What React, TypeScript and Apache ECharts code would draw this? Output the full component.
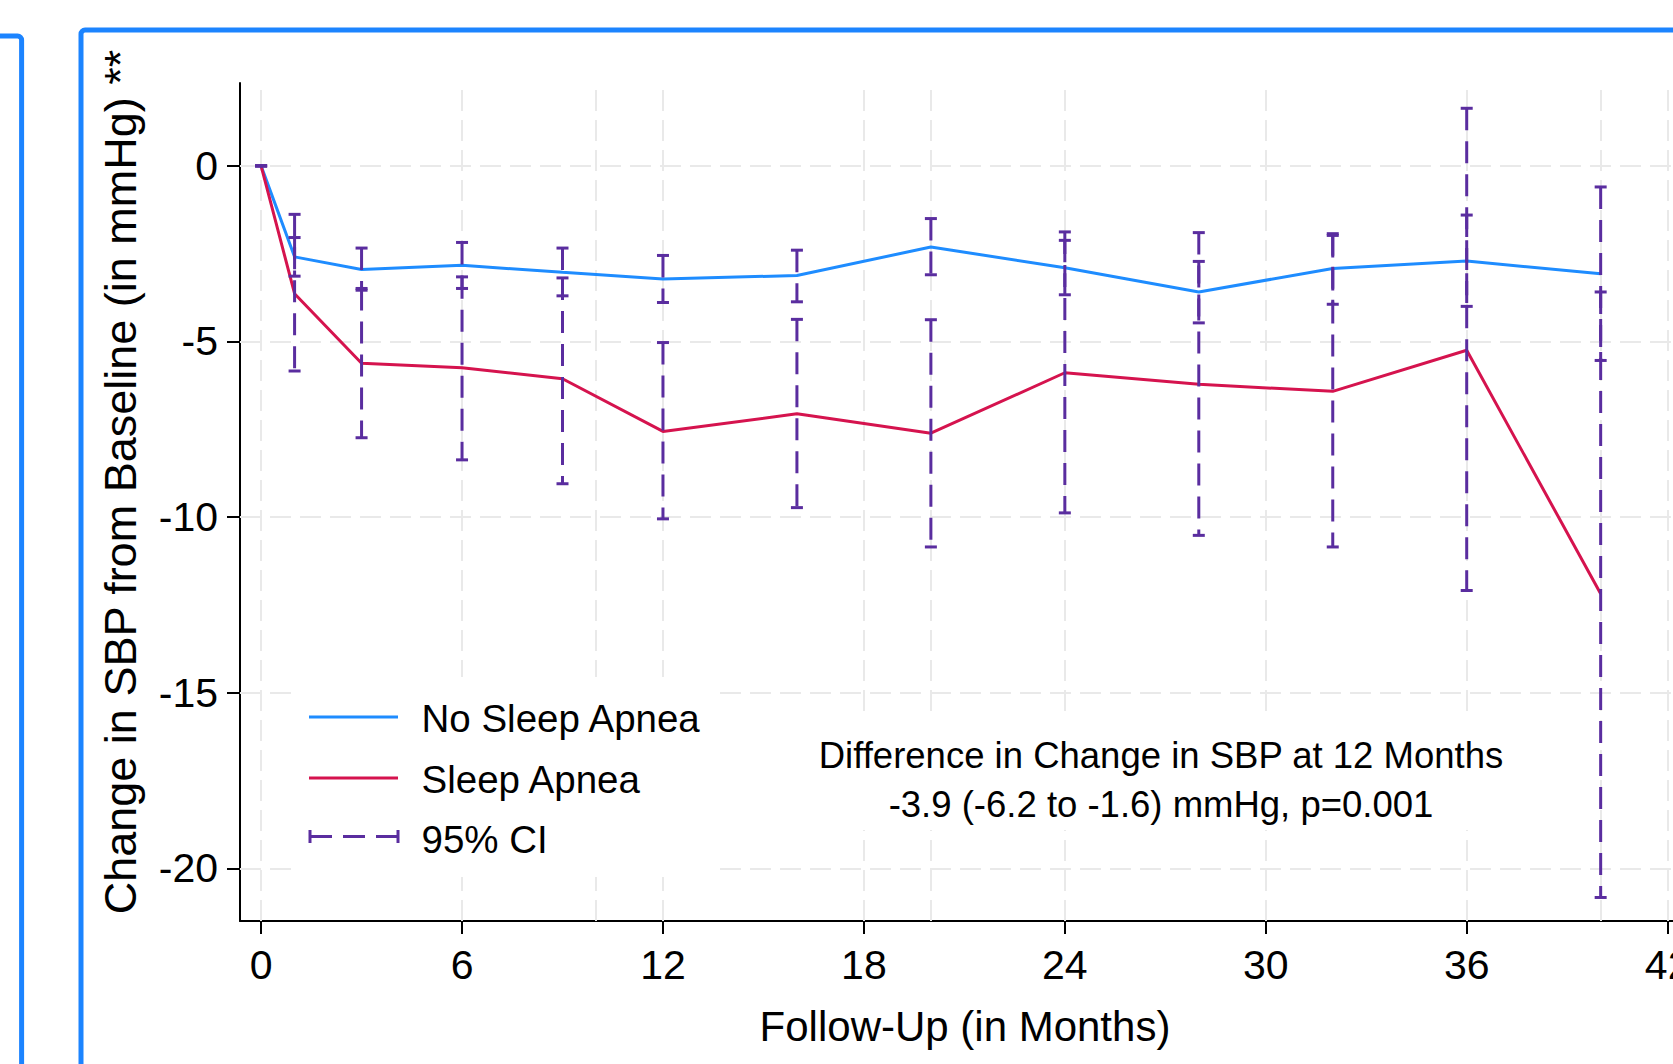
import React, { useEffect, useRef } from 'react';
import * as echarts from 'echarts';

// ---- data ----
const months = [0, 1, 3, 6, 9, 12, 16, 20, 24, 28, 32, 36, 40];
const noApneaMean = [0, -2.59, -2.95, -2.83, -3.03, -3.22, -3.12, -2.31, -2.9, -3.59, -2.92, -2.71, -3.07];
const noApneaLow = [0, -3.14, -3.54, -3.49, -3.7, -3.89, -3.87, -3.1, -3.67, -4.47, -3.94, -4.0, -5.54];
const noApneaHigh = [0, -2.04, -2.34, -2.18, -2.34, -2.55, -2.4, -1.5, -2.12, -2.72, -1.93, -1.4, -0.6];
const apneaMean = [0, -3.64, -5.62, -5.75, -6.06, -7.56, -7.06, -7.61, -5.89, -6.22, -6.42, -5.25, -12.18];
const apneaLow = [0, -5.84, -7.74, -8.37, -9.05, -10.05, -9.73, -10.85, -9.88, -10.52, -10.85, -12.09, -20.83];
const apneaHigh = [0, -1.38, -3.49, -3.16, -3.19, -5.03, -4.37, -4.38, -1.88, -1.9, -1.98, 1.64, -3.59];

const xTickValues = [0, 6, 12, 18, 24, 30, 36, 42];
const yTickValues = [0, -5, -10, -15, -20];
const xGridValues = [0, 6, 10, 12, 18, 20, 24, 30, 36, 40, 42];
const yGridValues = [0, -5, -10, -15, -20];

const seriesNames = ['No Sleep Apnea', 'Sleep Apnea', '95% CI'];
const xTitle = 'Follow-Up (in Months)';
const yTitle = 'Change in SBP from Baseline (in mmHg) **';
const noteLines = ['Difference in Change in SBP at 12 Months', '-3.9 (-6.2 to -1.6) mmHg, p=0.001'];

// ---- styles ----
const FONT = '"Liberation Sans", Arial, Helvetica, sans-serif';
const BLUE = '#1e8cff';
const RED = '#d5134e';
const PURPLE = '#5a2d9f';
const FRAME = '#1c84ff';
const GRID = '#e9e9e9';

function ciRender(params: any, api: any) {
  const x = api.value(0);
  const lo = api.value(1);
  const hi = api.value(2);
  const pHi = api.coord([x, hi]);
  const pLo = api.coord([x, lo]);
  const half = 6;
  return {
    type: 'group',
    children: [
      {
        type: 'line',
        shape: { x1: pHi[0], y1: pHi[1], x2: pLo[0], y2: pLo[1] },
        style: { stroke: PURPLE, lineWidth: 3, lineDash: [22, 11] },
      },
      {
        type: 'line',
        shape: { x1: pHi[0] - half, y1: pHi[1], x2: pHi[0] + half, y2: pHi[1] },
        style: { stroke: PURPLE, lineWidth: 3 },
      },
      {
        type: 'line',
        shape: { x1: pLo[0] - half, y1: pLo[1], x2: pLo[0] + half, y2: pLo[1] },
        style: { stroke: PURPLE, lineWidth: 3 },
      },
    ],
  };
}

function buildOption() {
  const textBase = { fontFamily: FONT, fill: '#000' };
  return {
    animation: false,
    backgroundColor: '#fff',
    grid: { left: 240, top: 83, right: 0, bottom: 143, containLabel: false, outerBoundsMode: 'none' },
    xAxis: {
      type: 'value',
      min: -0.63,
      max: 42.16,
      axisLine: { show: true, onZero: false, lineStyle: { color: '#000', width: 2 } },
      axisTick: { show: true, customValues: xTickValues, length: 13, lineStyle: { color: '#000', width: 2 } },
      axisLabel: { customValues: xTickValues, fontSize: 41, fontFamily: FONT, color: '#000', margin: 23 },
      splitLine: { show: false },
      name: xTitle,
      nameLocation: 'middle',
      nameGap: 84,
      nameTextStyle: { fontSize: 42, fontFamily: FONT, color: '#000', padding: [0, 0, 0, 17] },
    },
    yAxis: {
      type: 'value',
      min: -21.5,
      max: 2.36,
      axisLine: { show: true, onZero: false, lineStyle: { color: '#000', width: 2 } },
      axisTick: { show: true, customValues: yTickValues, length: 13, lineStyle: { color: '#000', width: 2 } },
      axisLabel: { customValues: yTickValues, fontSize: 41, fontFamily: FONT, color: '#000', margin: 22 },
      splitLine: { show: false },
    },
    series: [
      {
        type: 'line',
        name: seriesNames[0],
        data: months.map((m, i) => [m, noApneaMean[i]]),
        symbol: 'none',
        showSymbol: false,
        lineStyle: { color: BLUE, width: 3 },
        itemStyle: { color: BLUE },
        z: 2,
        silent: true,
        markLine: {
          silent: true,
          symbol: 'none',
          z: 1,
          label: { show: false },
          lineStyle: { color: GRID, width: 2, type: [21, 9] },
          emphasis: { disabled: true },
          data: [
            ...xGridValues.map((v) => ({ xAxis: v })),
            ...yGridValues.map((v) => ({ yAxis: v })),
          ],
        },
      },
      {
        type: 'line',
        name: seriesNames[1],
        data: months.map((m, i) => [m, apneaMean[i]]),
        symbol: 'none',
        showSymbol: false,
        lineStyle: { color: RED, width: 3 },
        itemStyle: { color: RED },
        z: 2,
        silent: true,
      },
      {
        type: 'custom',
        name: seriesNames[2],
        data: months.map((m, i) => [m, noApneaLow[i], noApneaHigh[i]]),
        encode: { x: 0, y: [1, 2] },
        renderItem: ciRender,
        z: 3,
        silent: true,
      },
      {
        type: 'custom',
        name: seriesNames[2],
        data: months.map((m, i) => [m, apneaLow[i], apneaHigh[i]]),
        encode: { x: 0, y: [1, 2] },
        renderItem: ciRender,
        z: 3,
        silent: true,
      },
    ],
    graphic: {
      elements: [
        // outer blue frames
        {
          type: 'rect',
          silent: true,
          shape: { x: -100, y: 36, width: 121.6, height: 2000, r: 4 },
          style: { fill: 'none', stroke: FRAME, lineWidth: 5 },
        },
        {
          type: 'rect',
          silent: true,
          shape: { x: 81, y: 30, width: 2000, height: 2000, r: 4 },
          style: { fill: 'none', stroke: FRAME, lineWidth: 5 },
        },
        // y axis title
        {
          type: 'text',
          silent: true,
          x: 120,
          y: 482,
          rotation: Math.PI / 2,
          style: { ...textBase, text: yTitle, fontSize: 45, align: 'center', verticalAlign: 'middle' },
        },
        // legend
        {
          type: 'rect',
          silent: true,
          z: 10,
          shape: { x: 292, y: 677, width: 425, height: 200 },
          style: { fill: '#fff' },
        },
        {
          type: 'line',
          silent: true,
          z: 11,
          shape: { x1: 309, y1: 717, x2: 398, y2: 717 },
          style: { stroke: BLUE, lineWidth: 3 },
        },
        {
          type: 'text',
          silent: true,
          z: 11,
          x: 421.5,
          y: 718.5,
          style: { ...textBase, text: seriesNames[0], fontSize: 38.5, align: 'left', verticalAlign: 'middle' },
        },
        {
          type: 'line',
          silent: true,
          z: 11,
          shape: { x1: 309, y1: 778, x2: 398, y2: 778 },
          style: { stroke: RED, lineWidth: 3 },
        },
        {
          type: 'text',
          silent: true,
          z: 11,
          x: 421.5,
          y: 779,
          style: { ...textBase, text: seriesNames[1], fontSize: 38.5, align: 'left', verticalAlign: 'middle' },
        },
        {
          type: 'line',
          silent: true,
          z: 11,
          shape: { x1: 310, y1: 836.5, x2: 398, y2: 836.5 },
          style: { stroke: PURPLE, lineWidth: 3, lineDash: [22, 11] },
        },
        {
          type: 'line',
          silent: true,
          z: 11,
          shape: { x1: 310, y1: 830, x2: 310, y2: 843 },
          style: { stroke: PURPLE, lineWidth: 3 },
        },
        {
          type: 'line',
          silent: true,
          z: 11,
          shape: { x1: 398, y1: 830, x2: 398, y2: 843 },
          style: { stroke: PURPLE, lineWidth: 3 },
        },
        {
          type: 'text',
          silent: true,
          z: 11,
          x: 421.5,
          y: 839,
          style: { ...textBase, text: seriesNames[2], fontSize: 38.5, align: 'left', verticalAlign: 'middle' },
        },
        // annotation
        {
          type: 'rect',
          silent: true,
          z: 10,
          shape: { x: 800, y: 720, width: 722, height: 110 },
          style: { fill: '#fff' },
        },
        {
          type: 'text',
          silent: true,
          z: 11,
          x: 1161,
          y: 755,
          style: { ...textBase, text: noteLines[0], fontSize: 36.5, align: 'center', verticalAlign: 'middle' },
        },
        {
          type: 'text',
          silent: true,
          z: 11,
          x: 1161,
          y: 804,
          style: { ...textBase, text: noteLines[1], fontSize: 36.5, align: 'center', verticalAlign: 'middle' },
        },
      ],
    },
  };
}

export default function App() {
  const ref = useRef<HTMLDivElement>(null);
  useEffect(() => {
    if (!ref.current) return;
    const chart = echarts.init(ref.current, null, { renderer: 'svg' });
    chart.setOption(buildOption() as any);
    return () => {
      chart.dispose();
    };
  }, []);
  return (
    <div
      ref={ref}
      style={{ position: 'fixed', left: 0, top: 0, width: 1673, height: 1064, background: '#fff' }}
    />
  );
}
